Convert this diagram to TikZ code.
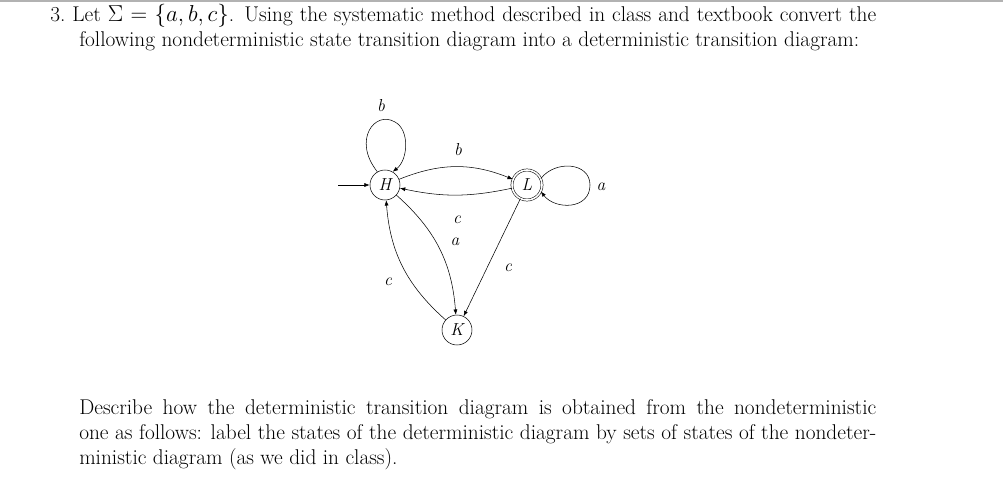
\documentclass[tikz,border=0pt]{standalone}
\usetikzlibrary{arrows.meta}
\begin{document}
\begin{tikzpicture}[x=0.75pt,y=-0.75pt,
  st/.style={circle,draw,minimum size=22.5pt,inner sep=0pt,font=\itshape\fontsize{13}{15}\selectfont},
  acc/.style={st,double,double distance=1.2pt},
  tr/.style={-{Latex[length=4pt,width=3pt]},thin},
  lab/.style={font=\itshape\fontsize{13}{15}\selectfont,inner sep=1pt},
  txt/.style={anchor=west,inner sep=0pt,font=\fontsize{16}{19}\selectfont}]
\useasboundingbox (0,0) rectangle (1003,489);
\draw[gray!60,line width=0.8pt] (0,1) -- (1003,1);
\node[txt] (l1) at (50,16) {\makebox[619.5pt][s]{3.\ Let $\Sigma=\{a,b,c\}$. Using the systematic method described in class and textbook convert the}};
\node[txt] (l2) at (79,41) {following nondeterministic state transition diagram into a deterministic transition diagram:};
\node[txt] (p1) at (79,409) {\makebox[597.75pt][s]{Describe how the deterministic transition diagram is obtained from the nondeterministic}};
\node[txt] (p2) at (79,434) {\makebox[597.75pt][s]{one as follows: label the states of the deterministic diagram by sets of states of the nondeter-}};
\node[txt] (p3) at (79,459) {ministic diagram (as we did in class).};
\node[st] (H) at (385,185) {H};
\node[acc] (L) at (527,185) {L};
\node[st] (K) at (457,330) {K};
\coordinate (s) at (338,185);
\draw[tr] (s) -- (H);
\draw[tr] (H.120) .. controls (352,140) and (375,110) .. (395,122) .. controls (410,130) and (408,160) .. (H.60);
\draw[tr] (H) to[bend left=22] (L);
\draw[tr] (L) to[bend left=12] (H);
\draw[tr] (L.25) .. controls (555,160) and (590,162) .. (590,185) .. controls (590,210) and (555,210) .. (L.-25);
\draw[tr] (H) to[bend left=22] (K);
\draw[tr] (K) to[bend left=22] (H);
\draw[tr] (L) -- (K);
\node[lab] (lb1) at (381,106) {b};
\node[lab] (lb2) at (458,150) {b};
\node[lab] (la1) at (601,187) {a};
\node[lab] (lc1) at (457,220) {c};
\node[lab] (la2) at (455,242) {a};
\node[lab] (lc2) at (508,268) {c};
\node[lab] (lc3) at (388,282) {c};
\end{tikzpicture}
\end{document}
